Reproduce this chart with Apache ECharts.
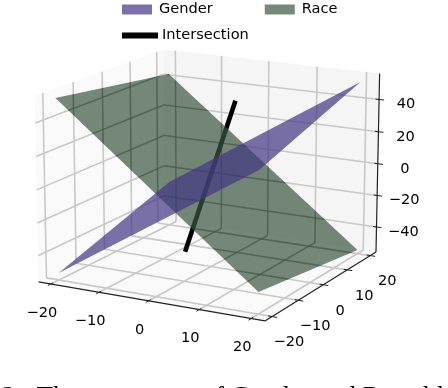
<!DOCTYPE html>
<html>
<head>
<meta charset="utf-8">
<style>
  html, body { margin: 0; padding: 0; background: #fff; }
  #app { width: 448px; height: 388px; }
</style>
<script src="https://cdn.jsdelivr.net/npm/echarts@6/dist/echarts.min.js"></script>
</head>
<body>
<div id="app"></div>
<script>
// values
var xTicks = [-20, -10, 0, 10, 20];
var yTicks = [-20, -10, 0, 10, 20];
var zTicks = [-40, -20, 0, 20, 40];
var planeX = [-20, 20, 20, -20];
var planeY = [-20, -20, 20, 20];
var genderZ = [-51.6, 27.7, 51.5, -27.6];
var raceZ = [53.9, -42.9, -53.7, 42.6];
var lineX = [-3, 3];
var lineY = [15, -15];
var lineZ = [35, -32];

var captionText = '2:  The consensus of Gender and Race bl';

var FONT = '"DejaVu Sans"';
var XLIM = 22.6, YLIM = 22.6, ZLIM = 56;

// same camera as the 3d axes: elevation 15, azimuth -61.5, box 4:4:3, dist 10
var elev = 15 * Math.PI / 180, azim = -61.5 * Math.PI / 180;
var BOX_XY = 1.143, BOX_Z = 0.857, DIST = 10, SCALE = 220, CX = 211, CY = 176.5;
var se = Math.sin(elev), ce = Math.cos(elev), sa = Math.sin(azim), ca = Math.cos(azim);

function project(x, y, z) {
    var px = x / XLIM * BOX_XY / 2, py = y / YLIM * BOX_XY / 2, pz = z / ZLIM * BOX_Z / 2;
    var w = 1 - (ce * ca * px + ce * sa * py + se * pz) / DIST;
    return [
        CX + SCALE * (-sa * px + ca * py) / w,
        CY - SCALE * (-se * ca * px - se * sa * py + ce * pz) / w
    ];
}

function polygon(pts) {
    var row = [];
    pts.forEach(function (p) {
        var s = project(p[0], p[1], p[2]);
        row.push(s[0], s[1]);
    });
    return row;
}

function segment(a, b) {
    return project(a[0], a[1], a[2]).concat(project(b[0], b[1], b[2]));
}

function polyPoints(row, api) {
    var pts = [];
    for (var i = 0; i < 4; i++) {
        pts.push(api.coord([row[i * 2], row[i * 2 + 1]]));
    }
    return pts;
}

function renderPolygon(params, api) {
    var row = [];
    for (var i = 0; i < 8; i++) row.push(api.value(i));
    return { type: 'polygon', shape: { points: polyPoints(row, api) }, style: api.style(), silent: true };
}

function renderSegment(params, api) {
    var a = api.coord([api.value(0), api.value(1)]);
    var b = api.coord([api.value(2), api.value(3)]);
    return { type: 'line', shape: { x1: a[0], y1: a[1], x2: b[0], y2: b[1] }, style: api.style(), silent: true };
}

function polySeries(name, rows, color, opacity) {
    return {
        name: name, type: 'custom', renderItem: renderPolygon, data: rows, clip: false,
        encode: { x: [0, 2, 4, 6], y: [1, 3, 5, 7] },
        itemStyle: { color: color, opacity: opacity }
    };
}

function segSeries(rows, color, width) {
    return {
        type: 'custom', renderItem: renderSegment, data: rows, clip: false,
        encode: { x: [0, 2], y: [1, 3] },
        itemStyle: { color: 'none', borderColor: color, borderWidth: width }
    };
}

// panes
var wallLeft = polygon([[-XLIM, -YLIM, -ZLIM], [-XLIM, YLIM, -ZLIM], [-XLIM, YLIM, ZLIM], [-XLIM, -YLIM, ZLIM]]);
var wallBack = polygon([[-XLIM, YLIM, -ZLIM], [XLIM, YLIM, -ZLIM], [XLIM, YLIM, ZLIM], [-XLIM, YLIM, ZLIM]]);
var floor = polygon([[-XLIM, -YLIM, -ZLIM], [XLIM, -YLIM, -ZLIM], [XLIM, YLIM, -ZLIM], [-XLIM, YLIM, -ZLIM]]);

// grid lines on the panes
var gridRows = [];
xTicks.forEach(function (x) {
    gridRows.push(segment([x, -YLIM, -ZLIM], [x, YLIM, -ZLIM]));
    gridRows.push(segment([x, YLIM, -ZLIM], [x, YLIM, ZLIM]));
});
yTicks.forEach(function (y) {
    gridRows.push(segment([-XLIM, y, -ZLIM], [XLIM, y, -ZLIM]));
    gridRows.push(segment([-XLIM, y, -ZLIM], [-XLIM, y, ZLIM]));
});
zTicks.forEach(function (z) {
    gridRows.push(segment([-XLIM, -YLIM, z], [-XLIM, YLIM, z]));
    gridRows.push(segment([-XLIM, YLIM, z], [XLIM, YLIM, z]));
});

function plane(zs) {
    return polygon(planeX.map(function (x, i) { return [x, planeY[i], zs[i]]; }));
}
var racePlane = plane(raceZ);
var genderPlane = plane(genderZ);

// axis lines and tick marks
var axisRows = [
    segment([-XLIM, -YLIM, -ZLIM], [XLIM, -YLIM, -ZLIM]),
    segment([XLIM, -YLIM, -ZLIM], [XLIM, YLIM, -ZLIM]),
    segment([XLIM, YLIM, -ZLIM], [XLIM, YLIM, ZLIM])
];
var tickRows = [];
var textRows = [];
function fmt(v) { return v < 0 ? '\u2212' + (-v) : String(v); }
xTicks.forEach(function (x) {
    tickRows.push(segment([x, -YLIM + 0.7, -ZLIM], [x, -YLIM - 1, -ZLIM]));
    var s = project(x, -YLIM, -ZLIM);
    textRows.push({ value: [s[0] - 9, s[1] + 29], name: fmt(x) });
});
yTicks.forEach(function (y) {
    tickRows.push(segment([XLIM - 0.7, y, -ZLIM], [XLIM + 1, y, -ZLIM]));
    var s = project(XLIM, y, -ZLIM);
    textRows.push({ value: [s[0] + 17, s[1] + 26], name: fmt(y) });
});
zTicks.forEach(function (z) {
    tickRows.push(segment([XLIM - 0.7, YLIM, z], [XLIM + 1, YLIM, z]));
    var s = project(XLIM, YLIM, z);
    textRows.push({ value: [s[0] + 27, s[1] + 5], name: fmt(z) });
});

var intersection = segment([lineX[0], lineY[0], lineZ[0]], [lineX[1], lineY[1], lineZ[1]]);

var chart = echarts.init(document.getElementById('app'), null, { renderer: 'canvas' });
chart.setOption({
    animation: false,
    title: {
        text: captionText, left: 2, top: 384, padding: 0,
        textStyle: { fontFamily: '"Liberation Serif"', fontSize: 27, fontWeight: 'normal', color: '#000' }
    },
    legend: [{
        left: 117, top: -3, itemWidth: 30, itemHeight: 10, itemGap: 52, selectedMode: false,
        textStyle: { fontFamily: FONT, fontSize: 14.6, color: '#000', padding: [0, 0, 0, 2] },
        data: [
            { name: 'Gender', icon: 'rect', itemStyle: { color: '#7b71a8', opacity: 1 } },
            { name: 'Race', icon: 'rect', itemStyle: { color: '#76887a', opacity: 1 } }
        ]
    }, {
        left: 117, top: 23, itemWidth: 34, itemHeight: 4, selectedMode: false,
        textStyle: { fontFamily: FONT, fontSize: 14.6, color: '#000', padding: [0, 0, 0, 0] },
        data: [{ name: 'Intersection', icon: 'rect', itemStyle: { color: '#000', opacity: 1 } }]
    }],
    grid: { left: 0, right: 0, top: 0, bottom: 0 },
    xAxis: { type: 'value', min: 0, max: 448, show: false },
    yAxis: { type: 'value', min: 0, max: 388, inverse: true, show: false },
    series: [
        polySeries('wallLeft', [wallLeft], '#fafafa', 1),
        polySeries('wallBack', [wallBack], '#f5f5f5', 1),
        polySeries('floor', [floor], '#fafafa', 1),
        segSeries(gridRows, '#c8c8c8', 1.6),
        Object.assign(segSeries([intersection], '#000', 4.6), { name: 'Intersection' }),
        polySeries('Race', [racePlane], '#3b5541', 0.7),
        // grid lines read darker through the Race plane
        {
            type: 'custom', data: gridRows, clip: false,
            encode: { x: [0, 2], y: [1, 3] },
            renderItem: function (params, api) {
                var a = api.coord([api.value(0), api.value(1)]);
                var b = api.coord([api.value(2), api.value(3)]);
                return {
                    type: 'line', silent: true,
                    shape: { x1: a[0], y1: a[1], x2: b[0], y2: b[1] },
                    clipPath: { type: 'polygon', shape: { points: polyPoints(racePlane, api) } },
                    style: { stroke: 'rgba(45,60,50,0.35)', lineWidth: 1.3, fill: 'none' }
                };
            }
        },
        polySeries('Gender', [genderPlane], '#423483', 0.7),
        segSeries(axisRows, '#222', 1.2),
        segSeries(tickRows, '#222', 1),
        {
            type: 'custom', data: textRows, clip: false,
            encode: { x: 0, y: 1 },
            renderItem: function (params, api) {
                var p = api.coord([api.value(0), api.value(1)]);
                return {
                    type: 'text', x: p[0], y: p[1], silent: true,
                    style: {
                        text: textRows[params.dataIndex].name, align: 'center', verticalAlign: 'middle',
                        fontFamily: FONT, fontSize: 14.6, fill: '#000'
                    }
                };
            }
        }
    ]
});
</script>
</body>
</html>
